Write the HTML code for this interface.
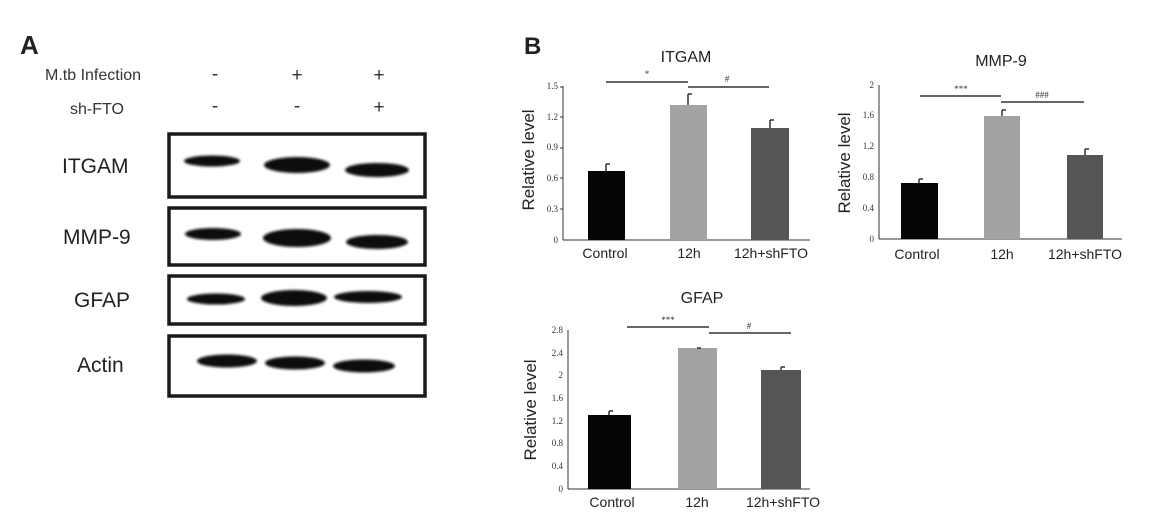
<!DOCTYPE html>
<html><head><meta charset="utf-8"><style>
html,body{margin:0;padding:0;background:#fff}
svg{display:block}
.s{font-family:"Liberation Sans",sans-serif}
.t{font-family:"Liberation Serif",serif;font-size:9px;fill:#333}
</style></head><body>
<svg width="1161" height="531" viewBox="0 0 1161 531">
<defs><filter id="b" x="-20%" y="-100%" width="140%" height="300%"><feGaussianBlur stdDeviation="1.3"/></filter></defs>
<!-- Panel A -->
<text x="20" y="54" class="s" font-size="26" font-weight="bold" fill="#222">A</text>
<g class="s" font-size="16" fill="#333">
<text x="45" y="80">M.tb Infection</text>
<text x="70" y="114">sh-FTO</text>
</g>
<g class="s" font-size="19" fill="#333">
<text x="215" y="80" text-anchor="middle">-</text><text x="297" y="81" text-anchor="middle">+</text><text x="379" y="81" text-anchor="middle">+</text>
<text x="215" y="112" text-anchor="middle">-</text><text x="297" y="112" text-anchor="middle">-</text><text x="379" y="113" text-anchor="middle">+</text>
</g>
<g class="s" font-size="21" fill="#222">
<text x="62" y="173">ITGAM</text><text x="63" y="244">MMP-9</text><text x="74" y="307">GFAP</text><text x="77" y="372">Actin</text>
</g>
<g fill="none" stroke="#1a1a1a" stroke-width="3.5">
<rect x="169" y="134" width="256" height="63"/>
<rect x="169" y="208" width="256" height="57"/>
<rect x="169" y="276" width="256" height="48"/>
<rect x="169" y="336" width="256" height="60"/>
</g>
<g fill="#111" filter="url(#b)">
<ellipse cx="212" cy="161" rx="28" ry="5.5"/><ellipse cx="297" cy="165" rx="33" ry="8"/><ellipse cx="377" cy="170" rx="32" ry="7"/>
<ellipse cx="213" cy="234" rx="28" ry="6"/><ellipse cx="297" cy="238" rx="34" ry="9"/><ellipse cx="377" cy="242" rx="31" ry="7"/>
<ellipse cx="216" cy="299" rx="29" ry="5.5"/><ellipse cx="294" cy="298" rx="33" ry="8"/><ellipse cx="368" cy="297" rx="34" ry="6"/>
<ellipse cx="227" cy="361" rx="30" ry="6.5"/><ellipse cx="295" cy="363" rx="30" ry="6.5"/><ellipse cx="364" cy="366" rx="31" ry="6.5"/>
</g>
<!-- Panel B -->
<text x="524" y="54" class="s" font-size="24" font-weight="bold" fill="#222">B</text>

<!-- ITGAM -->
<g>
<text x="686" y="62" class="s" font-size="16" fill="#222" text-anchor="middle">ITGAM</text>
<text transform="translate(534,160) rotate(-90)" class="s" font-size="17" fill="#222" text-anchor="middle">Relative level</text>
<line x1="563" y1="86" x2="563" y2="240" stroke="#333"/><line x1="563" y1="240" x2="810" y2="240" stroke="#333"/>
<g class="t" text-anchor="end"><text x="558" y="243">0</text><text x="558" y="212">0.3</text><text x="558" y="181">0.6</text><text x="558" y="150">0.9</text><text x="558" y="120">1.2</text><text x="558" y="89">1.5</text></g>
<g stroke="#333"><line x1="563" y1="209" x2="560" y2="209"/><line x1="563" y1="178" x2="560" y2="178"/><line x1="563" y1="148" x2="560" y2="148"/><line x1="563" y1="117" x2="560" y2="117"/><line x1="563" y1="87" x2="560" y2="87"/></g>
<rect x="588" y="171" width="37" height="69" fill="#050505"/>
<rect x="670" y="105" width="37" height="135" fill="#a3a3a3"/>
<rect x="751" y="128" width="38" height="112" fill="#555"/>
<g stroke="#333" stroke-width="1.5"><line x1="606" y1="171" x2="606" y2="164"/><line x1="606" y1="164" x2="610" y2="164"/>
<line x1="688" y1="105" x2="688" y2="94"/><line x1="688" y1="94" x2="692" y2="94"/>
<line x1="770" y1="128" x2="770" y2="120"/><line x1="770" y1="120" x2="774" y2="120"/>
<line x1="606" y1="82" x2="688" y2="82"/><line x1="688" y1="87" x2="769" y2="87"/></g>
<text x="647" y="77" class="t" font-size="12" text-anchor="middle">*</text><text x="727" y="82" class="t" font-size="11" text-anchor="middle">#</text>
<g class="s" font-size="14" fill="#222" text-anchor="middle"><text x="605" y="258">Control</text><text x="689" y="258">12h</text><text x="771" y="258">12h+shFTO</text></g>
</g>

<!-- MMP-9 -->
<g>
<text x="1001" y="66" class="s" font-size="16" fill="#222" text-anchor="middle">MMP-9</text>
<text transform="translate(850,163) rotate(-90)" class="s" font-size="17" fill="#222" text-anchor="middle">Relative level</text>
<line x1="879" y1="85" x2="879" y2="239" stroke="#333"/><line x1="879" y1="239" x2="1122" y2="239" stroke="#333"/>
<g class="t" text-anchor="end"><text x="874" y="242">0</text><text x="874" y="211">0.4</text><text x="874" y="180">0.8</text><text x="874" y="149">1.2</text><text x="874" y="118">1.6</text><text x="874" y="88">2</text></g>
<rect x="901" y="183" width="37" height="56" fill="#050505"/>
<rect x="984" y="116" width="36" height="123" fill="#a3a3a3"/>
<rect x="1067" y="155" width="36" height="84" fill="#555"/>
<g stroke="#333" stroke-width="1.5"><line x1="919" y1="183" x2="919" y2="179"/><line x1="919" y1="179" x2="923" y2="179"/>
<line x1="1002" y1="116" x2="1002" y2="110"/><line x1="1002" y1="110" x2="1006" y2="110"/>
<line x1="1085" y1="155" x2="1085" y2="149"/><line x1="1085" y1="149" x2="1089" y2="149"/>
<line x1="920" y1="96" x2="1001" y2="96"/><line x1="1001" y1="102" x2="1084" y2="102"/></g>
<text x="961" y="92" class="t" font-size="12" text-anchor="middle">***</text><text x="1042" y="98" class="t" font-size="11" text-anchor="middle">###</text>
<g class="s" font-size="14" fill="#222" text-anchor="middle"><text x="917" y="259">Control</text><text x="1002" y="259">12h</text><text x="1085" y="259">12h+shFTO</text></g>
</g>

<!-- GFAP -->
<g>
<text x="702" y="303" class="s" font-size="16" fill="#222" text-anchor="middle">GFAP</text>
<text transform="translate(536,410) rotate(-90)" class="s" font-size="17" fill="#222" text-anchor="middle">Relative level</text>
<line x1="568" y1="330" x2="568" y2="489" stroke="#333"/><line x1="568" y1="489" x2="810" y2="489" stroke="#333"/>
<g class="t" text-anchor="end"><text x="563" y="492">0</text><text x="563" y="469">0.4</text><text x="563" y="446">0.8</text><text x="563" y="424">1.2</text><text x="563" y="401">1.6</text><text x="563" y="378">2</text><text x="563" y="356">2.4</text><text x="563" y="333">2.8</text></g>
<rect x="588" y="415" width="43" height="74" fill="#050505"/>
<rect x="678" y="348" width="39" height="141" fill="#a3a3a3"/>
<rect x="761" y="370" width="40" height="119" fill="#555"/>
<g stroke="#333" stroke-width="1.5"><line x1="609" y1="415" x2="609" y2="411"/><line x1="609" y1="411" x2="613" y2="411"/>
<line x1="697" y1="348" x2="701" y2="348"/>
<line x1="781" y1="370" x2="781" y2="367"/><line x1="781" y1="367" x2="785" y2="367"/>
<line x1="627" y1="327" x2="709" y2="327"/><line x1="709" y1="333" x2="791" y2="333"/></g>
<text x="668" y="323" class="t" font-size="12" text-anchor="middle">***</text><text x="749" y="329" class="t" font-size="11" text-anchor="middle">#</text>
<g class="s" font-size="14" fill="#222" text-anchor="middle"><text x="612" y="507">Control</text><text x="697" y="507">12h</text><text x="783" y="507">12h+shFTO</text></g>
</g>
</svg>
</body></html>
